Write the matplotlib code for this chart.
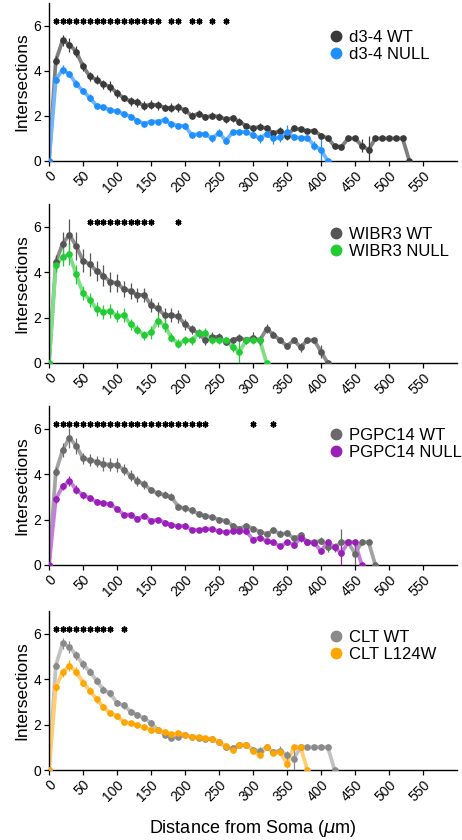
import numpy as np
import matplotlib
matplotlib.use("Agg")
import matplotlib.pyplot as plt
from matplotlib.lines import Line2D
from matplotlib.transforms import Bbox

plt.rcParams['font.family'] = ['Liberation Sans', 'DejaVu Sans']

STEP = 10  # Sholl radius step (um)

# ---------------- data ----------------
d34_wt = [0, 4.45, 5.35, 5.15, 4.85, 4.2, 3.75, 3.6, 3.4, 3.3, 3.0, 2.79, 2.65, 2.6, 2.45, 2.5, 2.48, 2.37, 2.35, 2.38,
          2.25, 2.0, 2.1, 1.95, 2.0, 1.97, 1.85, 1.9, 1.75, 1.55, 1.45, 1.52, 1.45, 1.22, 1.35, 1.1, 1.45, 1.4, 1.32, 1.35,
          1.12, 1.02, 0.65, 0.63, 1.0, 1.0, 0.68, 0.5, 1.0, 1.0, 1.0, 1.0, 1.0, 0]
d34_wt_err = [0, 0.2, 0.25, 0.3, 0.25, 0.2, 0.2, 0.2, 0.2, 0.25, 0.2, 0.15, 0.2, 0.2, 0.2, 0.2, 0.2, 0.15, 0.2, 0.2,
              0.15, 0.15, 0.15, 0.15, 0.15, 0.15, 0.15, 0.15, 0.15, 0.1, 0.15, 0.15, 0.15, 0.15, 0.15, 0.15, 0.1, 0.1, 0.1, 0.1,
              0.1, 0.1, 0.1, 0.1, 0, 0, 0.3, 0.6, 0, 0, 0, 0, 0, 0]
d34_null = [0, 3.6, 4.05, 3.85, 3.42, 3.1, 2.8, 2.45, 2.38, 2.25, 2.2, 2.08, 1.97, 1.78, 1.66, 1.75, 1.75, 1.83, 1.63, 1.57,
            1.55, 1.15, 1.2, 1.18, 1.0, 1.25, 0.9, 1.27, 1.3, 1.28, 1.15, 1.0, 1.2, 1.0, 1.05, 1.3, 1.05, 1.03, 1.03, 0.68,
            0.5, 0]
d34_null_err = [0, 0.15, 0.2, 0.15, 0.15, 0.15, 0.15, 0.12, 0.12, 0.12, 0.12, 0.12, 0.12, 0.12, 0.12, 0.12, 0.12, 0.15, 0.15, 0.12,
                0.12, 0.1, 0.1, 0.1, 0.15, 0.15, 0.15, 0.12, 0.1, 0.1, 0.15, 0.2, 0.15, 0.25, 0.2, 0.3, 0.1, 0.1, 0.1, 0.2,
                0.55, 0]
d34_stars = [10, 20, 30, 40, 50, 60, 70, 80, 90, 100, 110, 120, 130, 140, 150, 160, 180, 190, 210, 220, 240, 260]

wibr_wt = [0, 4.45, 5.25, 5.65, 5.15, 4.5, 4.35, 4.05, 3.85, 3.57, 3.52, 3.25, 3.17, 3.0, 3.0, 2.55, 2.4, 2.1, 2.1, 2.05,
           1.7, 1.48, 1.3, 1.0, 1.15, 1.15, 0.93, 1.0, 1.12, 1.0, 1.12, 1.0, 1.5, 1.25, 1.0, 0.75, 1.0, 0.7, 1.0, 1.0,
           0.5, 0]
wibr_wt_err = [0, 0.3, 0.5, 0.7, 0.6, 0.5, 0.5, 0.45, 0.45, 0.45, 0.4, 0.35, 0.35, 0.3, 0.3, 0.3, 0.3, 0.3, 0.3, 0.3,
               0.25, 0.2, 0.2, 0.2, 0.2, 0.15, 0.15, 0.15, 0.15, 0.15, 0.25, 0.2, 0.2, 0.15, 0.1, 0.15, 0.1, 0.2, 0.1, 0.1,
               0.3, 0]
wibr_null = [0, 4.3, 4.68, 4.78, 3.9, 3.08, 2.78, 2.38, 2.25, 2.3, 2.07, 2.1, 1.7, 1.47, 1.22, 1.35, 1.87, 1.65, 1.12, 0.85,
             1.0, 1.0, 1.3, 1.3, 1.0, 1.0, 1.0, 0.7, 0.5, 1.0, 1.0, 1.0, 0]
wibr_null_err = [0, 0.3, 0.4, 0.45, 0.4, 0.3, 0.3, 0.3, 0.3, 0.3, 0.25, 0.3, 0.25, 0.2, 0.2, 0.3, 0.3, 0.3, 0.2, 0.2,
                 0.2, 0.2, 0.2, 0.25, 0.15, 0.15, 0.15, 0.2, 0.6, 0.15, 0.15, 0.15, 0]
wibr_stars = [60, 70, 80, 90, 100, 110, 120, 130, 140, 150, 190]

pgpc_wt = [0, 4.1, 5.05, 5.6, 5.25, 4.7, 4.62, 4.55, 4.45, 4.42, 4.4, 4.2, 3.93, 3.7, 3.55, 3.3, 3.15, 3.1, 3.0, 2.57,
           2.5, 2.4, 2.25, 2.17, 2.1, 2.0, 1.95, 1.73, 1.6, 1.73, 1.6, 1.47, 1.37, 1.52, 1.37, 1.4, 1.17, 1.3, 1.03, 1.0,
           1.07, 0.78, 0.78, 1.0, 1.0, 0.5, 1.0, 1.0, 0]
pgpc_wt_err = [0, 0.2, 0.3, 0.45, 0.35, 0.25, 0.25, 0.25, 0.3, 0.3, 0.3, 0.25, 0.25, 0.2, 0.2, 0.15, 0.15, 0.15, 0.15, 0.15,
               0.15, 0.15, 0.12, 0.12, 0.12, 0.12, 0.12, 0.12, 0.12, 0.12, 0.12, 0.12, 0.1, 0.12, 0.15, 0.12, 0.1, 0.15, 0.1, 0.1,
               0.15, 0.2, 0.2, 0.6, 0, 0.6, 0, 0, 0]
pgpc_null = [0, 2.9, 3.47, 3.7, 3.32, 3.07, 2.95, 2.78, 2.72, 2.67, 2.47, 2.22, 2.22, 2.02, 2.17, 1.95, 2.0, 1.87, 1.78, 1.7,
             1.73, 1.55, 1.55, 1.58, 1.58, 1.48, 1.45, 1.5, 1.5, 1.48, 1.12, 1.2, 1.05, 1.0, 0.82, 1.0, 0.9, 1.17, 1.0, 0.98,
             0.62, 1.0, 0.78, 0.52, 1.0, 1.0, 0]
pgpc_null_err = [0, 0.15, 0.15, 0.2, 0.2, 0.15, 0.12, 0.12, 0.12, 0.12, 0.1, 0.1, 0.1, 0.1, 0.1, 0.1, 0.1, 0.1, 0.1, 0.1,
                 0.1, 0.1, 0.1, 0.1, 0.1, 0.1, 0.1, 0.1, 0.1, 0.1, 0.1, 0.1, 0.1, 0.1, 0.1, 0.1, 0.15, 0.15, 0.1, 0.1,
                 0.15, 0.15, 0.15, 0.5, 0, 0, 0]
pgpc_stars = [10, 20, 30, 40, 50, 60, 70, 80, 90, 100, 110, 120, 130, 140, 150, 160, 170, 180, 190, 200, 210, 220, 230,
              300, 330]

clt_wt = [0, 4.6, 5.58, 5.42, 5.05, 4.65, 4.33, 3.93, 3.53, 3.38, 2.95, 2.85, 2.57, 2.42, 2.28, 2.07, 1.77, 1.55, 1.42, 1.45,
          1.53, 1.45, 1.42, 1.38, 1.35, 1.22, 1.0, 0.95, 1.12, 1.1, 0.9, 0.85, 1.0, 0.8, 0.85, 0.65, 0.5, 1.0, 1.0, 1.0,
          1.0, 1.0, 0]
clt_wt_err = [0, 0.15, 0.25, 0.25, 0.2, 0.2, 0.15, 0.15, 0.15, 0.15, 0.15, 0.15, 0.12, 0.12, 0.12, 0.12, 0.1, 0.1, 0.1, 0.1,
              0.1, 0.1, 0.1, 0.1, 0.1, 0.1, 0.1, 0.1, 0.1, 0.1, 0.1, 0.15, 0.1, 0.1, 0.2, 0.2, 0.5, 0, 0, 0,
              0, 0, 0]
clt_mut = [0, 3.65, 4.3, 4.6, 4.33, 3.85, 3.5, 3.12, 2.77, 2.5, 2.37, 2.12, 2.05, 1.98, 1.88, 1.78, 1.75, 1.67, 1.57, 1.63,
           1.55, 1.45, 1.45, 1.4, 1.37, 1.25, 1.05, 0.87, 1.12, 1.12, 0.85, 0.65, 1.0, 0.77, 0.78, 0.28, 1.0, 1.0, 0]
clt_mut_err = [0, 0.15, 0.2, 0.25, 0.2, 0.15, 0.15, 0.15, 0.15, 0.12, 0.12, 0.1, 0.1, 0.1, 0.1, 0.1, 0.1, 0.1, 0.1, 0.1,
               0.1, 0.1, 0.1, 0.1, 0.1, 0.1, 0.1, 0.1, 0.1, 0.1, 0.1, 0.1, 0.1, 0.1, 0.1, 0.2, 0, 0, 0]
clt_stars = [10, 20, 30, 40, 50, 60, 70, 80, 90, 110]

xticks = [0, 50, 100, 150, 200, 250, 300, 350, 400, 450, 500, 550]
yticks = [0, 2, 4, 6]

panels = [
    dict(series=[("d3-4 WT", d34_wt, d34_wt_err, "#3a3a3a", "#7f7f7f"),
                 ("d3-4 NULL", d34_null, d34_null_err, "#1e8fff", "#6fb6ff")],
         stars=d34_stars, bottom=161, top=3, leg_y=0.832),
    dict(series=[("WIBR3 WT", wibr_wt, wibr_wt_err, "#555555", "#8c8c8c"),
                 ("WIBR3 NULL", wibr_null, wibr_null_err, "#22cc33", "#7fdf86")],
         stars=wibr_stars, bottom=363, top=204, leg_y=0.857),
    dict(series=[("PGPC14 WT", pgpc_wt, pgpc_wt_err, "#6a6a6a", "#a3a3a3"),
                 ("PGPC14 NULL", pgpc_null, pgpc_null_err, "#9a1fb8", "#c37fda")],
         stars=pgpc_stars, bottom=565, top=406, leg_y=0.863),
    dict(series=[("CLT WT", clt_wt, clt_wt_err, "#8a8a8a", "#c2c2c2"),
                 ("CLT L124W", clt_mut, clt_mut_err, "#ffa500", "#ffcc70")],
         stars=clt_stars, bottom=770, top=611, leg_y=0.882),
]

W, H = 462, 840
fig = plt.figure(figsize=(W / 100, H / 100), dpi=100)

left_px, right_px = 49, 457
axes = []
for p in panels:
    ax = fig.add_axes([left_px / W, 1 - p["bottom"] / H, (right_px - left_px) / W, (p["bottom"] - p["top"]) / H])
    axes.append(ax)
    handles = []
    for label, vals, err, mcol, lcol in p["series"]:
        x = np.arange(len(vals)) * STEP
        ax.plot(x, vals, color=lcol, lw=2.7, solid_joinstyle='round', zorder=2)
        ax.errorbar(x, vals, yerr=err, fmt='none', ecolor=mcol, elinewidth=0.9, capsize=0, zorder=3)
        ax.plot(x, vals, linestyle='none', marker='o', ms=3.8, color=mcol, mec=mcol, zorder=4)
        handles.append(Line2D([], [], linestyle='none', marker='o', ms=7.5, color=mcol, label=label))
    ax.plot(p["stars"], [6.2] * len(p["stars"]), linestyle='none', marker=(6, 2, 0), ms=4.3, mew=1.15,
            color='black', zorder=5)
    ax.set_xlim(0, 600)
    ax.set_ylim(0, 7)
    ax.set_xticks(xticks)
    ax.set_xticklabels([str(t) for t in xticks], rotation=45, ha='right', rotation_mode='anchor', fontsize=10)
    ax.set_yticks(yticks)
    ax.set_yticklabels([str(t) for t in yticks], fontsize=10)
    ax.tick_params(axis='both', direction='out', length=3.5, width=0.9, pad=2)
    ax.spines['top'].set_visible(False)
    ax.spines['right'].set_visible(False)
    ax.spines['left'].set_linewidth(1.0)
    ax.spines['bottom'].set_linewidth(1.0)
    ax.set_ylabel("Intersections", fontsize=12.5, labelpad=3)
    ax.legend(handles=handles, loc='upper left', bbox_to_anchor=(0.687, p["leg_y"]), frameon=False,
              fontsize=12, handlelength=0.8, handletextpad=0.4, labelspacing=0.15, borderaxespad=0,
              borderpad=0)

axes[-1].set_xlabel(r"Distance from Soma ($\mu$m)", fontsize=13, labelpad=10)

# x-label of the third panel, mostly hidden behind the panel below (only its top sliver shows)
ghost = fig.text(0.5 * (left_px + right_px) / W - 0.032, 1 - 620 / H, r"Distance from Soma ($\mu$m)",
                 fontsize=13, ha='center', va='baseline', color='#333333')
ghost.set_clip_box(Bbox.from_extents(0, H - 606, W, H))
ghost.set_clip_on(True)

fig.savefig("out.png", dpi=100)
